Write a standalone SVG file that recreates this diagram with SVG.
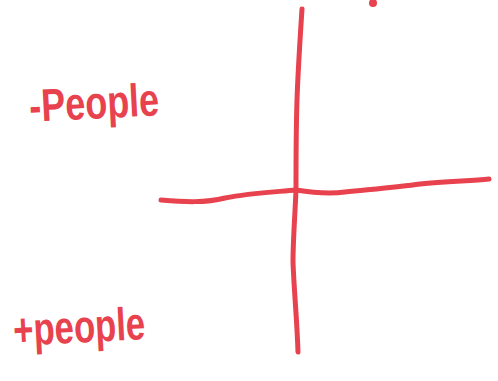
<svg xmlns="http://www.w3.org/2000/svg" width="498" height="381" viewBox="0 0 498 381">
<style>
.stroke{fill:none;stroke:#e8424e;stroke-width:5;stroke-linecap:round;stroke-linejoin:round}
.lbl{fill:#e8424e;font-family:"Liberation Sans Narrow","Liberation Sans",sans-serif;font-weight:bold;font-size:46px}
</style>
<rect width="498" height="381" fill="#ffffff"/>
<g id="connectors">
<path class="stroke" d="M302,9 C300,40 298,70 297,100 C296,130 296,160 296,190 C295,215 293,240 293,262 C294,290 297,320 298,352"/>
<path class="stroke" d="M161,200 C185,202 205,203 225,198 C250,193 275,192 296,190 C315,193 330,194 345,192 C375,189 400,187 420,184 C445,181 470,181 489,179"/>
<circle cx="373" cy="3" r="4" fill="#e8424e"/>
</g>
<g id="minus-people">
<text class="lbl" x="30" y="122" textLength="130" lengthAdjust="spacingAndGlyphs" transform="rotate(-3 30 122)">-People</text>
</g>
<g id="plus-people">
<text class="lbl" x="14" y="346" textLength="132" lengthAdjust="spacingAndGlyphs" transform="rotate(-3 14 346)">+people</text>
</g>
</svg>
